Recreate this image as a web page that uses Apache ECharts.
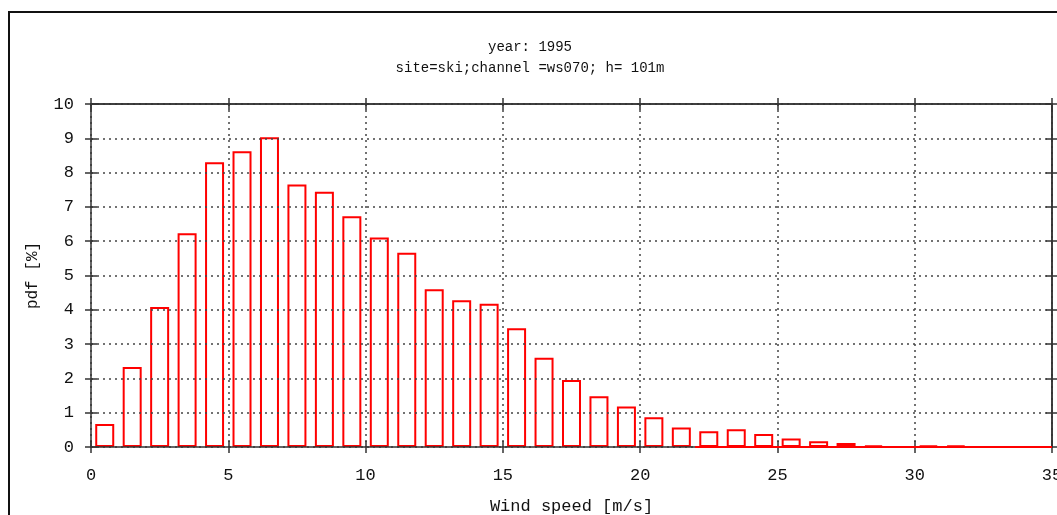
<!DOCTYPE html>
<html>
<head>
<meta charset="utf-8">
<script src="https://cdn.jsdelivr.net/npm/echarts@6/dist/echarts.min.js"></script>
<style>
  html, body { margin: 0; padding: 0; background: #fff; }
  #chart { width: 1057px; height: 515px; }
</style>
</head>
<body>
<div id="chart"></div>
<script>
// wind speed bins (centre of each 1 m/s bin) and the pdf in %
var binCenters = [0.5, 1.5, 2.5, 3.5, 4.5, 5.5, 6.5, 7.5, 8.5, 9.5,
  10.5, 11.5, 12.5, 13.5, 14.5, 15.5, 16.5, 17.5, 18.5, 19.5,
  20.5, 21.5, 22.5, 23.5, 24.5, 25.5, 26.5, 27.5, 28.5, 29.5,
  30.5, 31.5]
var pdfValues = [0.67, 2.33, 4.08, 6.23, 8.30, 8.62, 9.03, 7.65, 7.44, 6.73,
  6.11, 5.66, 4.60, 4.28, 4.18, 3.46, 2.60, 1.95, 1.48, 1.18,
  0.87, 0.57, 0.46, 0.52, 0.38, 0.25, 0.17, 0.12, 0.05, 0,
  0.04, 0.04]
// red zero line drawn by the plot on the right part of the axis
var zeroLine = [[22, 0], [35, 0]]

var xTicks = { min: 0, max: 35, interval: 5 }
var yTicks = { min: 0, max: 10, interval: 1 }

var font = 'Liberation Mono'
var axisColor = '#333'
var gridStyle = { color: '#444', width: 1.5, type: [2, 4] }

function xAxisPart(position, tickInside, main) {
  return {
    type: 'value',
    position: position,
    min: xTicks.min,
    max: xTicks.max,
    interval: xTicks.interval,
    z: 3,
    axisLine: { show: main || position === 'top', onZero: false, lineStyle: { color: axisColor, width: 1.5 } },
    axisTick: { show: true, inside: tickInside, length: 6, lineStyle: { color: axisColor, width: 1.5 } },
    axisLabel: main ? { show: true, margin: 20, color: '#111', fontFamily: font, fontSize: 17 } : { show: false },
    splitLine: main ? { show: true, lineStyle: gridStyle } : { show: false },
    name: main ? 'Wind speed [m/s]' : '',
    nameLocation: 'middle',
    nameGap: 51,
    nameTextStyle: { color: '#111', fontFamily: font, fontSize: 17 }
  }
}

function yAxisPart(position, tickInside, main) {
  return {
    type: 'value',
    position: position,
    min: yTicks.min,
    max: yTicks.max,
    interval: yTicks.interval,
    z: 3,
    axisLine: { show: main || position === 'right', onZero: false, lineStyle: { color: axisColor, width: 1.5 } },
    axisTick: { show: true, inside: tickInside, length: 6, lineStyle: { color: axisColor, width: 1.5 } },
    axisLabel: main ? { show: true, margin: 17, color: '#111', fontFamily: font, fontSize: 17 } : { show: false },
    splitLine: main ? { show: true, lineStyle: gridStyle } : { show: false },
    name: main ? 'pdf [%]' : '',
    nameLocation: 'middle',
    nameGap: 50,
    nameTextStyle: { color: '#111', fontFamily: font, fontSize: 16 }
  }
}

var chart = echarts.init(document.getElementById('chart'), null, { renderer: 'canvas' })

chart.setOption({
  animation: false,
  backgroundColor: '#fff',
  title: {
    text: 'year: 1995\nsite=ski;channel =ws070; h= 101m',
    left: 525,
    top: 32,
    textAlign: 'center',
    textStyle: { color: '#111', fontFamily: font, fontSize: 14, fontWeight: 'normal', lineHeight: 21 }
  },
  graphic: [{
    type: 'rect',
    shape: { x: 9, y: 12, width: 1200, height: 700 },
    style: { fill: 'none', stroke: '#111', lineWidth: 2 },
    silent: true
  }],
  grid: { left: 91, top: 104, right: 5, bottom: 68, outerBoundsMode: 'none', containLabel: false },
  xAxis: [
    xAxisPart('bottom', false, true),
    xAxisPart('bottom', true, false),
    xAxisPart('top', false, false),
    xAxisPart('top', true, false)
  ],
  yAxis: [
    yAxisPart('left', false, true),
    yAxisPart('left', true, false),
    yAxisPart('right', false, false),
    yAxisPart('right', true, false)
  ],
  series: [{
    type: 'bar',
    xAxisIndex: 0,
    yAxisIndex: 0,
    z: 1,
    barWidth: 19,
    data: binCenters.map(function (x, i) { return [x, pdfValues[i]] }),
    itemStyle: { color: 'rgba(255,255,255,0)', borderColor: '#ff0000', borderWidth: 2 }
  }, {
    type: 'line',
    xAxisIndex: 0,
    yAxisIndex: 0,
    z: 5,
    symbol: 'none',
    data: zeroLine,
    lineStyle: { color: '#ff0000', width: 2 }
  }]
})
</script>
</body>
</html>
